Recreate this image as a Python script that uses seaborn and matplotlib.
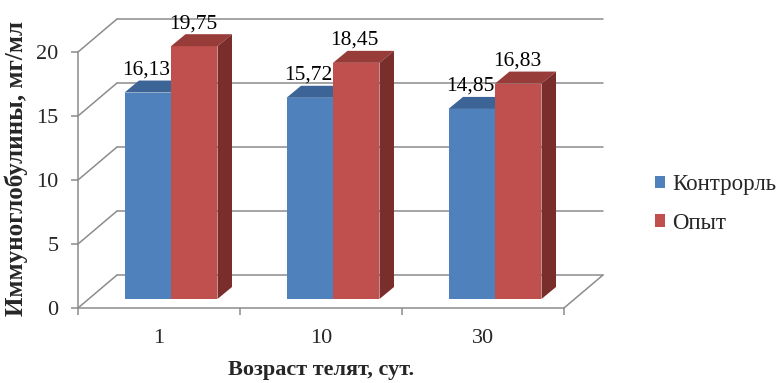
import numpy as np
import pandas as pd
import matplotlib
matplotlib.use("Agg")
import matplotlib.pyplot as plt
import seaborn as sns
from matplotlib.patches import Polygon, Patch
from matplotlib.transforms import ScaledTranslation

# ---- data ----
ages = ["1", "10", "30"]
series = ["Контрорль", "Опыт"]
control = [16.13, 15.72, 14.85]
experiment = [19.75, 18.45, 16.83]
y_ticks = [0, 5, 10, 15, 20]

x_title = "Возраст телят, сут."
y_title = "Иммуноглобулины, мг/мл"

front_colors = ["#4F81BD", "#C0504D"]
top_colors = ["#3C6497", "#983C3A"]
side_colors = ["#34578A", "#7A2E2C"]
grid_color = "#8C8C8C"

df = pd.DataFrame({
    "age": ages * 2,
    "group": [series[0]] * 3 + [series[1]] * 3,
    "value": control + experiment,
})

sns.set_style("white")
plt.rcParams["font.family"] = ["Liberation Serif", "DejaVu Serif"]

DPI = 100
fig = plt.figure(figsize=(7.8, 3.83), dpi=DPI)
W, H = 780, 383
# axes rectangle = front plane of the 3-D box
ax = fig.add_axes([78 / W, (H - 308) / H, 486 / W, 256 / H])

sns.barplot(data=df, x="age", y="value", hue="group", order=ages,
            hue_order=series, palette=front_colors, width=0.574,
            saturation=1, linewidth=0, legend=False, ax=ax)

ax.set_xlim(-0.5, 2.5)
ax.set_ylim(0, 20)

# pixel -> data conversion
p0 = ax.transData.transform((0, 0))
ppx = ax.transData.transform((1, 0))[0] - p0[0]
ppy = ax.transData.transform((0, 1))[1] - p0[1]

# depth of the box (back wall offset) and of the bars
WALL_DX, WALL_DY = 39 / ppx, 33 / ppy
BAR_DX, BAR_DY = 14.5 / ppx, 12 / ppy
# bars stand a bit behind the front edge of the floor
bar_trans = ax.transData + ScaledTranslation(12 / DPI, 9 / DPI, fig.dpi_scale_trans)

line_kw = dict(color=grid_color, lw=1.1, clip_on=False, zorder=0.5)

# back wall grid lines and left-wall diagonals
for v in y_ticks:
    ax.plot([-0.5, -0.5 + WALL_DX], [v, v + WALL_DY], **line_kw)
    ax.plot([-0.5 + WALL_DX, 2.5 + WALL_DX], [v + WALL_DY, v + WALL_DY], **line_kw)
# right edge of the floor
ax.plot([2.5, 2.5 + WALL_DX], [0, WALL_DY], **line_kw)

# 3-D faces of the bars
for i, cont in enumerate(ax.containers):
    for bar in cont:
        bar.set_transform(bar_trans)
        bar.set_zorder(2 + i)
        bar.set_clip_on(False)
        x0, w, h = bar.get_x(), bar.get_width(), bar.get_height()
        top = Polygon([(x0, h), (x0 + w, h), (x0 + w + BAR_DX, h + BAR_DY),
                       (x0 + BAR_DX, h + BAR_DY)], closed=True,
                      facecolor=top_colors[i], edgecolor="none",
                      transform=bar_trans, zorder=2.5 + i, clip_on=False)
        side = Polygon([(x0 + w, 0), (x0 + w + BAR_DX, BAR_DY),
                        (x0 + w + BAR_DX, h + BAR_DY), (x0 + w, h)], closed=True,
                       facecolor=side_colors[i], edgecolor="none",
                       transform=bar_trans, zorder=2.5 + i, clip_on=False)
        ax.add_patch(top)
        ax.add_patch(side)
        ax.annotate(f"{h:.2f}".replace(".", ","), xy=(x0 + w / 2, h),
                    xycoords=bar_trans, xytext=(-1, 16.2),
                    textcoords="offset points", ha="center", va="center",
                    fontsize=15.5, color="black", zorder=6, annotation_clip=False)

# axes styling
for s in ["top", "right"]:
    ax.spines[s].set_visible(False)
for s in ["left", "bottom"]:
    ax.spines[s].set_color(grid_color)
    ax.spines[s].set_linewidth(1.1)

ax.set_yticks(y_ticks)
ax.set_yticklabels([str(t) for t in y_ticks])
ax.tick_params(axis="y", direction="out", length=5, width=1.1, color=grid_color,
               labelsize=16, pad=9, left=True)
ax.set_xticks(range(len(ages)))
ax.set_xticklabels(ages)
ax.set_xticks([-0.5, 0.5, 1.5, 2.5], minor=True)
ax.tick_params(axis="x", which="major", length=0, labelsize=16, pad=15)
ax.tick_params(axis="x", which="minor", direction="out", length=5, width=1.1,
               color=grid_color, bottom=True)

ax.set_xlabel(x_title, fontsize=16, fontweight="bold", va="center")
ax.xaxis.set_label_coords(0.5, (308 - 370) / 256)
ax.set_ylabel(y_title, fontsize=18, fontweight="bold", va="center")
ax.yaxis.set_label_coords((16 - 78) / 486, (308 - 169) / 256)

handles = [Patch(facecolor=c, edgecolor="none") for c in front_colors]
fig.legend(handles, series, loc="center left",
           bbox_to_anchor=(655 / W, 1 - 204 / H), frameon=False,
           fontsize=16.5, handlelength=0.45, handleheight=0.45,
           handletextpad=0.3, labelspacing=0.75, borderpad=0, borderaxespad=0)

fig.savefig("out.png", dpi=DPI)
